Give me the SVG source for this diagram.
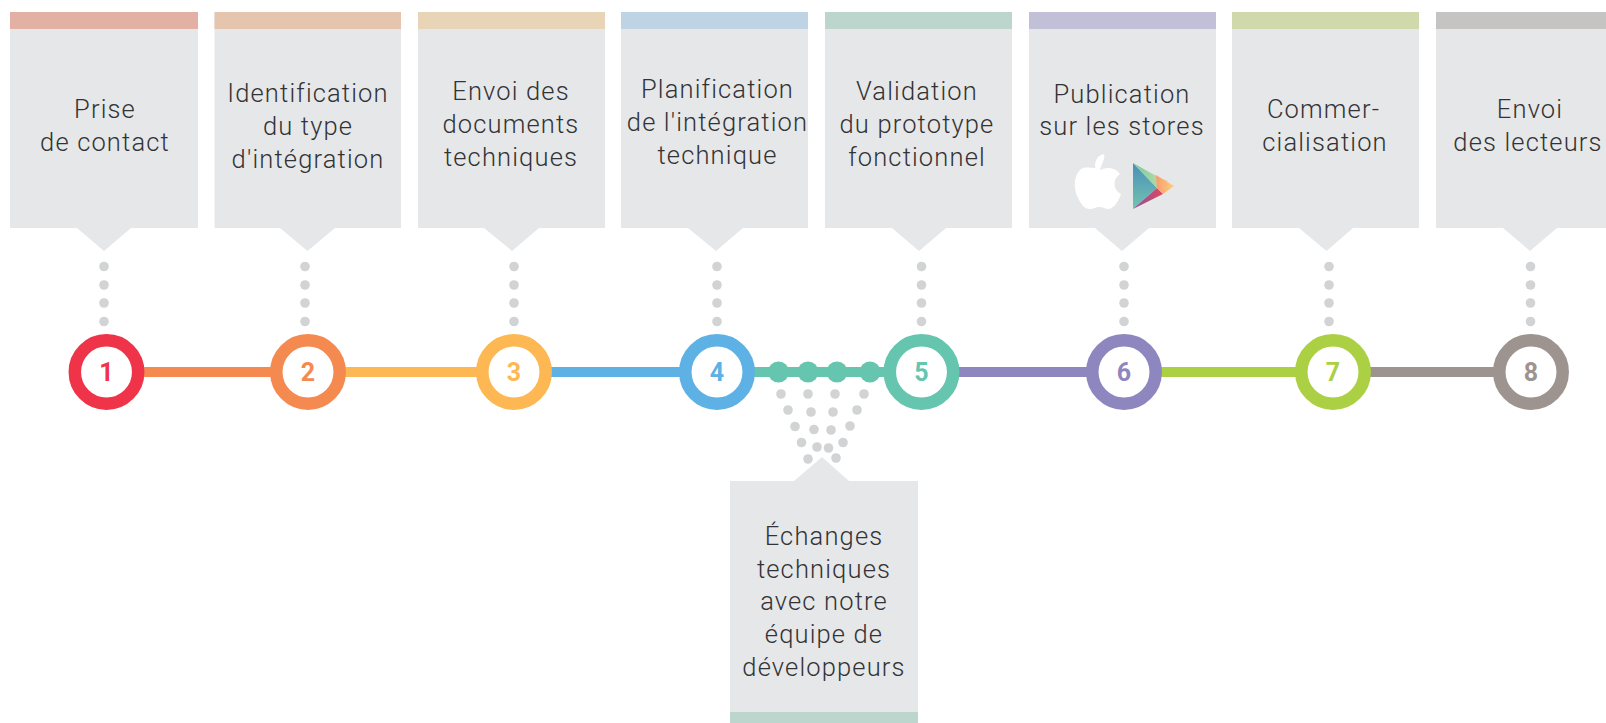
<svg xmlns="http://www.w3.org/2000/svg" width="1606" height="723" viewBox="0 0 1606 723">
<style>
.b{fill:#e6e7e9}
.t{font-family:Roboto,"Liberation Sans",sans-serif;font-weight:300;font-size:25.5px;letter-spacing:1.15px;fill:#333335;text-anchor:middle}
.n{font-family:Roboto,"Liberation Sans",sans-serif;font-weight:700;font-size:25px;text-anchor:middle}
.d{fill:#d1d3d4}
.r{fill:#fff;stroke-width:12.5}
</style>
<defs>
<linearGradient id="pg1" x1="0" y1="0" x2="0" y2="1"><stop offset="0" stop-color="#4a8fb8"/><stop offset="1" stop-color="#72c3b0"/></linearGradient>
<linearGradient id="pg2" x1="0" y1="0" x2="1" y2="0"><stop offset="0" stop-color="#73c9a8"/><stop offset="1" stop-color="#cde0a0"/></linearGradient>
<linearGradient id="pg3" x1="0" y1="0" x2="1" y2="0"><stop offset="0" stop-color="#8e4f9e"/><stop offset="1" stop-color="#dc4a5e"/></linearGradient>
<linearGradient id="pg4" x1="0" y1="0" x2="1" y2="0"><stop offset="0" stop-color="#fb9a6e"/><stop offset="1" stop-color="#fdd07e"/></linearGradient>
</defs>
<g id="connectors">
<g id="line-segments">
<rect x="140" y="367" width="135" height="10" fill="#f58a51"/>
<rect x="340" y="367" width="140" height="10" fill="#fdb853"/>
<rect x="545" y="367" width="140" height="10" fill="#5eb1e4"/>
<rect x="750" y="367" width="140" height="10" fill="#66c5ae"/>
<rect x="955" y="367" width="140" height="10" fill="#8d86bf"/>
<rect x="1155" y="367" width="145" height="10" fill="#abd044"/>
<rect x="1365" y="367" width="135" height="10" fill="#9d9490"/>
</g>
<g id="nodules" fill="#66c5ae">
<circle cx="778.500" cy="372" r="10.500"/><circle cx="808" cy="372" r="10.500"/><circle cx="837" cy="372" r="10.500"/><circle cx="870" cy="372" r="10.500"/>
</g>
<g id="dots" class="d">
<circle cx="104" cy="266.500" r="4.800"/><circle cx="104" cy="285" r="4.800"/><circle cx="104" cy="303" r="4.800"/><circle cx="104" cy="321.500" r="4.800"/>
<circle cx="305" cy="266.500" r="4.800"/><circle cx="305" cy="285" r="4.800"/><circle cx="305" cy="303" r="4.800"/><circle cx="305" cy="321.500" r="4.800"/>
<circle cx="514" cy="266.500" r="4.800"/><circle cx="514" cy="285" r="4.800"/><circle cx="514" cy="303" r="4.800"/><circle cx="514" cy="321.500" r="4.800"/>
<circle cx="717" cy="266.500" r="4.800"/><circle cx="717" cy="285" r="4.800"/><circle cx="717" cy="303" r="4.800"/><circle cx="717" cy="321.500" r="4.800"/>
<circle cx="921.500" cy="266.500" r="4.800"/><circle cx="921.500" cy="285" r="4.800"/><circle cx="921.500" cy="303" r="4.800"/><circle cx="921.500" cy="321.500" r="4.800"/>
<circle cx="1124" cy="266.500" r="4.800"/><circle cx="1124" cy="285" r="4.800"/><circle cx="1124" cy="303" r="4.800"/><circle cx="1124" cy="321.500" r="4.800"/>
<circle cx="1329" cy="266.500" r="4.800"/><circle cx="1329" cy="285" r="4.800"/><circle cx="1329" cy="303" r="4.800"/><circle cx="1329" cy="321.500" r="4.800"/>
<circle cx="1530.500" cy="266.500" r="4.800"/><circle cx="1530.500" cy="285" r="4.800"/><circle cx="1530.500" cy="303" r="4.800"/><circle cx="1530.500" cy="321.500" r="4.800"/>
<circle cx="781" cy="394" r="4.800"/><circle cx="808" cy="394" r="4.800"/><circle cx="835" cy="394" r="4.800"/><circle cx="864" cy="394" r="4.800"/>
<circle cx="788" cy="410" r="4.800"/><circle cx="811" cy="412" r="4.800"/><circle cx="833" cy="412" r="4.800"/><circle cx="857" cy="410" r="4.800"/>
<circle cx="795" cy="426.500" r="4.800"/><circle cx="814" cy="429.500" r="4.800"/><circle cx="831" cy="430" r="4.800"/><circle cx="850" cy="426" r="4.800"/>
<circle cx="801.500" cy="442.500" r="4.800"/><circle cx="817" cy="447" r="4.800"/><circle cx="828.500" cy="448" r="4.800"/><circle cx="843" cy="442.500" r="4.800"/>
<circle cx="808" cy="459" r="4.800"/><circle cx="836" cy="458" r="4.800"/>
</g>
</g>
<g id="box-1"><path class="b" d="M10 12H198V228H131L104 251L77 228H10Z"/><rect x="10" y="12" width="188" height="17" fill="#e3b0a4"/>
<text class="t" x="105" y="118">Prise</text><text class="t" x="105" y="151">de contact</text></g>
<g id="box-2"><path class="b" d="M214.500 12H401V228H335L307.500 251L280 228H214.500Z"/><rect x="214.500" y="12" width="186.500" height="17" fill="#e5c5ad"/>
<text class="t" x="308" y="102">Identification</text><text class="t" x="308" y="135">du type</text><text class="t" x="308" y="168">d'intégration</text></g>
<g id="box-3"><path class="b" d="M418 12H605V228H539L512 251L484 228H418Z"/><rect x="418" y="12" width="187" height="17" fill="#e8d5b8"/>
<text class="t" x="511" y="100">Envoi des</text><text class="t" x="511" y="133">documents</text><text class="t" x="511" y="166">techniques</text></g>
<g id="box-4"><path class="b" d="M621 12H808V228H743L716 251L688 228H621Z"/><rect x="621" y="12" width="187" height="17" fill="#bed3e3"/>
<text class="t" x="717.500" y="98">Planification</text><text class="t" x="717.500" y="131">de l'intégration</text><text class="t" x="717.500" y="164">technique</text></g>
<g id="box-5"><path class="b" d="M825 12H1012V228H946L919 251L892 228H825Z"/><rect x="825" y="12" width="187" height="17" fill="#bcd5cd"/>
<text class="t" x="917" y="100">Validation</text><text class="t" x="917" y="133">du prototype</text><text class="t" x="917" y="166">fonctionnel</text></g>
<g id="box-6"><path class="b" d="M1029 12H1216V228H1149L1122 251L1095 228H1029Z"/><rect x="1029" y="12" width="187" height="17" fill="#c2c0d6"/>
<text class="t" x="1122" y="103">Publication</text><text class="t" x="1122" y="135">sur les stores</text>
<path fill="#fff" d="M1100 170C1102 162 1107 156 1103 154C1097 156 1094 162 1095.500 168C1090 168 1084 166 1080 170C1074 176 1073 188 1078 198C1081 204 1084 209 1090 209C1094 209 1096 207 1099 207C1103 207 1105 209 1109 209C1114 208 1118 202 1121 194C1113 190 1112 179 1120 174C1116 168 1108 166 1100 170Z"/>
<polygon points="1133,163 1157,188 1133,209" fill="url(#pg1)"/>
<polygon points="1133,163 1160,178 1168,181 1157,188" fill="url(#pg2)"/>
<polygon points="1133,209 1157,188 1163,194" fill="url(#pg3)"/>
<polygon points="1156,175 1174,186 1163,194 1157,188" fill="url(#pg4)"/></g>
<g id="box-7"><path class="b" d="M1232 12H1419V228H1353L1326.500 251L1299 228H1232Z"/><rect x="1232" y="12" width="187" height="17" fill="#cfd9ac"/>
<text class="t" x="1323.500" y="118">Commer-</text><text class="t" x="1325" y="151">cialisation</text></g>
<g id="box-8"><path class="b" d="M1436 12H1606V228H1557L1530 251L1503 228H1436Z"/><rect x="1436" y="12" width="170" height="17" fill="#c6c4c2"/>
<text class="t" x="1530" y="118">Envoi</text><text class="t" x="1528" y="151">des lecteurs</text></g>
<g id="box-9"><path class="b" d="M730 481H794L822 457L849 481H918V723H730Z"/><rect x="730" y="712" width="188" height="11" fill="#bcd5cd"/>
<text class="t" x="824" y="545">Échanges</text><text class="t" x="824" y="578">techniques</text><text class="t" x="824" y="610">avec notre</text><text class="t" x="824" y="643">équipe de</text><text class="t" x="824" y="676">développeurs</text></g>
<g id="step-1"><circle class="r" cx="106.500" cy="372" r="31.700" stroke="#ef3349"/><text class="n" x="106.500" y="381" fill="#ef3349">1</text></g>
<g id="step-2"><circle class="r" cx="308" cy="372" r="31.700" stroke="#f58a51"/><text class="n" x="308" y="381" fill="#f58a51">2</text></g>
<g id="step-3"><circle class="r" cx="514" cy="372" r="31.700" stroke="#fdb853"/><text class="n" x="514" y="381" fill="#fdb853">3</text></g>
<g id="step-4"><circle class="r" cx="717" cy="372" r="31.700" stroke="#5eb1e4"/><text class="n" x="717" y="381" fill="#5eb1e4">4</text></g>
<g id="step-5"><circle class="r" cx="921.500" cy="372" r="31.700" stroke="#66c5ae"/><text class="n" x="921.500" y="381" fill="#66c5ae">5</text></g>
<g id="step-6"><circle class="r" cx="1124" cy="372" r="31.700" stroke="#8d86bf"/><text class="n" x="1124" y="381" fill="#8d86bf">6</text></g>
<g id="step-7"><circle class="r" cx="1333" cy="372" r="31.700" stroke="#abd044"/><text class="n" x="1333" y="381" fill="#abd044">7</text></g>
<g id="step-8"><circle class="r" cx="1531" cy="372" r="31.700" stroke="#9d9490"/><text class="n" x="1531" y="381" fill="#9d9490">8</text></g>
</svg>
